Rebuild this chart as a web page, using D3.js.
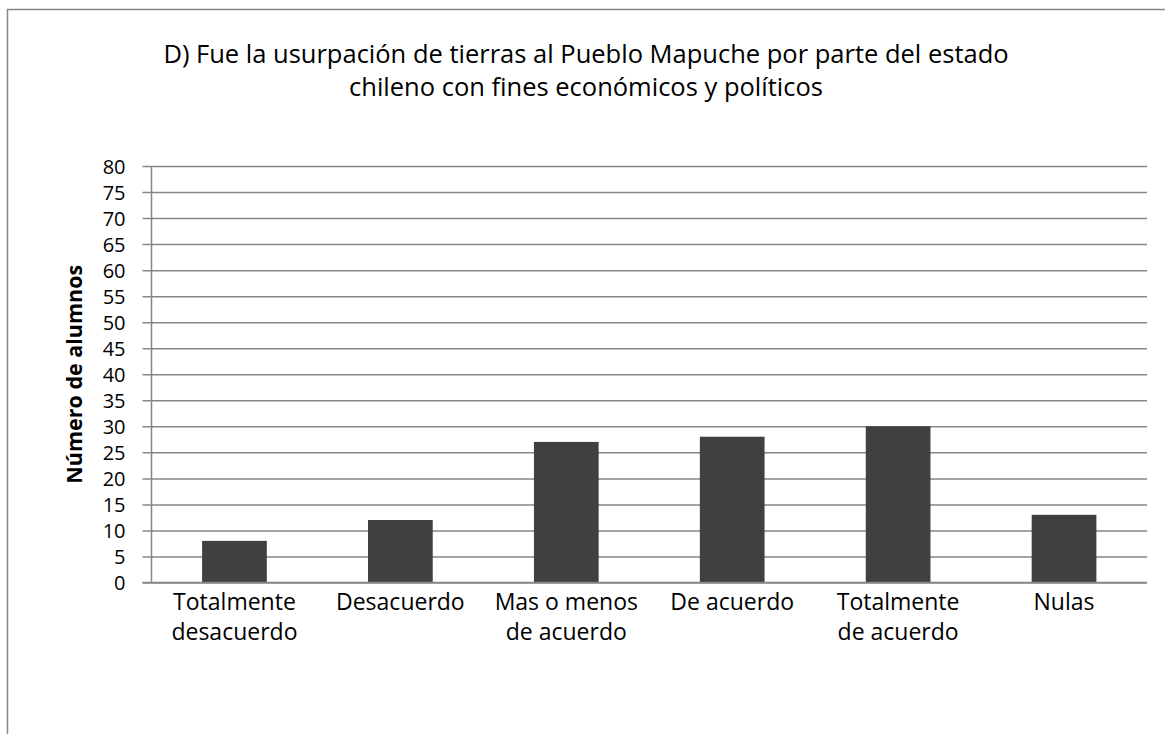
<!DOCTYPE html>
<html>
<head>
  <meta charset="utf-8">
  <title>Usurpación de tierras</title>
  <script src="https://d3js.org/d3.v7.min.js"></script>
  <style>
    body { margin: 0; background: #fff; }
    text { font-family: "Open Sans", "Noto Sans", sans-serif; fill: #000; }
  </style>
</head>
<body>
  <svg width="1165" height="734"></svg>
  <script>
  // Data
  var categories = ["Totalmente desacuerdo", "Desacuerdo", "Mas o menos de acuerdo", "De acuerdo", "Totalmente de acuerdo", "Nulas"];
  var labelLines = [["Totalmente", "desacuerdo"], ["Desacuerdo"], ["Mas o menos", "de acuerdo"], ["De acuerdo"], ["Totalmente", "de acuerdo"], ["Nulas"]];
  var values = [8, 12, 27, 28, 30, 13];
  var yTicks = d3.range(0, 81, 5);
  var titleLines = ["D) Fue la usurpación de tierras al Pueblo Mapuche por parte del estado",
                    "chileno con fines económicos y políticos"];
  var yTitle = "Número de alumnos";

  var svg = d3.select("svg");

  // chart frame
  svg.append("rect")
    .attr("x", 7.5).attr("y", 9.5)
    .attr("width", 1170).attr("height", 740)
    .attr("fill", "none")
    .attr("stroke", "#868686")
    .attr("stroke-width", 1.5);

  var plotL = 151.5, plotR = 1147, plotT = 166, plotB = 582.5;

  var x = d3.scaleBand().domain(categories).range([plotL, plotR]).paddingInner(0.61).paddingOuter(0.305);
  var y = d3.scaleLinear().domain([0, 80]).range([plotB, plotT]);

  // gridlines + y ticks
  var yAxis = d3.axisLeft(y).tickValues(yTicks).tickSize(-(plotR - plotL)).tickSizeOuter(0);
  var gy = svg.append("g").attr("transform", "translate(" + plotL + ",0)").call(yAxis);
  gy.select(".domain").remove();
  gy.selectAll(".tick line")
    .attr("x1", -9)
    .attr("stroke", "#868686")
    .attr("stroke-width", 1.5);
  gy.selectAll(".tick text")
    .attr("x", -26)
    .attr("dy", "0.36em")
    .style("font-size", "20px")
    .style("font-family", "'Open Sans', sans-serif")
    .attr("fill", "#000");

  // bars
  svg.selectAll("rect.bar")
    .data(values)
    .enter()
    .append("rect")
    .attr("class", "bar")
    .attr("x", function(d, i){ return x(categories[i]); })
    .attr("y", function(d){ return y(d); })
    .attr("width", x.bandwidth())
    .attr("height", function(d){ return y(0) - y(d); })
    .attr("fill", "#404040");

  // axis lines
  svg.append("line")
    .attr("x1", plotL).attr("x2", plotL)
    .attr("y1", plotT).attr("y2", plotB)
    .attr("stroke", "#868686").attr("stroke-width", 1.5);
  svg.append("line")
    .attr("x1", plotL - 9).attr("x2", plotR)
    .attr("y1", plotB).attr("y2", plotB)
    .attr("stroke", "#868686").attr("stroke-width", 1.5);

  // category labels
  var step = (plotR - plotL) / categories.length;
  var lab = svg.append("g").selectAll("text")
    .data(labelLines)
    .enter()
    .append("text")
    .attr("text-anchor", "middle")
    .attr("x", function(d, i){ return plotL + step * (i + 0.5); })
    .attr("y", 610)
    .style("font-size", "23px");
  lab.selectAll("tspan")
    .data(function(d){ return d; })
    .enter()
    .append("tspan")
    .attr("x", function(){ return d3.select(this.parentNode).attr("x"); })
    .attr("dy", function(d, j){ return j === 0 ? 0 : 30; })
    .text(function(d){ return d; });

  // title
  svg.append("g").selectAll("text")
    .data(titleLines)
    .enter()
    .append("text")
    .attr("text-anchor", "middle")
    .attr("x", 586)
    .attr("y", function(d, i){ return 63 + i * 33; })
    .style("font-size", "25.5px")
    .text(function(d){ return d; });

  // y title
  svg.append("text")
    .attr("transform", "translate(82," + ((plotT + plotB) / 2) + ") rotate(-90)")
    .attr("text-anchor", "middle")
    .style("font-size", "21.5px")
    .style("font-weight", "bold")
    .text(yTitle);
  </script>
</body>
</html>
